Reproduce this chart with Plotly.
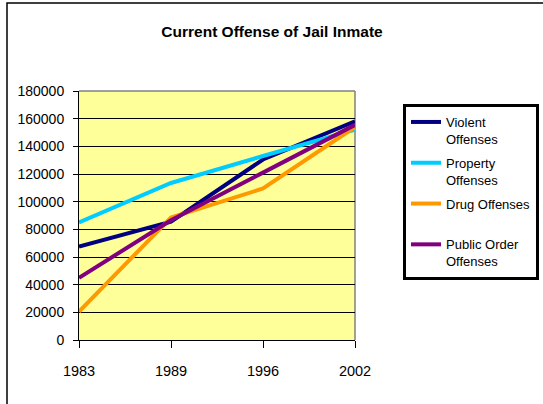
import plotly.graph_objects as go

years = ["1983", "1989", "1996", "2002"]
series_names = ["Violent<br>Offenses", "Property<br>Offenses", "Drug Offenses<br> ", "Public Order<br>Offenses"]
violent = [67500, 85500, 130500, 158000]
property_ = [85000, 113500, 133000, 152000]
drug = [20500, 88500, 109500, 154000]
public_order = [45000, 86500, 121000, 155500]
series_values = [violent, property_, drug, public_order]
colors = ["#000080", "#00CCFF", "#FF9900", "#800080"]
y_ticks = list(range(0, 180001, 20000))

FONT = "Liberation Sans Narrow, Arial Narrow, Liberation Sans, Arial, sans-serif"

fig = go.Figure()
for i, (name, vals, c) in enumerate(zip(series_names, series_values, colors)):
    fig.add_trace(go.Scatter(x=years, y=vals, mode="lines", name=name,
                             legendgroup=f"g{i}",
                             line=dict(color=c, width=4)))

W, H = 543, 404
L, R, T, B = 79, 188, 91, 64
pw, ph = W - L - R, H - T - B

def px2x(px):
    return (px - L) / pw

def px2y(py):
    return (H - B - py) / ph

fig.update_layout(
    width=W, height=H,
    margin=dict(l=L, r=R, t=T, b=B, autoexpand=False),
    paper_bgcolor="white",
    plot_bgcolor="#FFFF99",
    font=dict(family=FONT, size=14, color="black"),
    title=dict(text="<b>Current Offense of Jail Inmate</b>", xref="container", yref="container",
               x=272 / W, y=1 - 32 / H, xanchor="center", yanchor="middle",
               font=dict(family=FONT, size=15.5, color="black")),
    xaxis=dict(type="category", categoryorder="array", categoryarray=years,
               range=[0, 3], showgrid=False, showline=True, linecolor="black", linewidth=1,
               ticks="outside", ticklen=7, tickcolor="black", ticklabelstandoff=11,
               tickfont=dict(size=14.5)),
    yaxis=dict(range=[0, 180000], tickvals=y_ticks, tickformat="d",
               showgrid=True, gridcolor="black", gridwidth=1,
               showline=True, linecolor="black", linewidth=1, zeroline=False,
               ticks="outside", ticklen=5, tickcolor="black", ticklabelstandoff=6,
               tickfont=dict(size=14)),
    legend=dict(x=px2x(403), y=px2y(104), xanchor="left", yanchor="top",
                bordercolor="black", borderwidth=3, bgcolor="white",
                font=dict(family=FONT, size=13, color="black"),
                valign="top", tracegroupgap=4, entrywidth=150, entrywidthmode="pixels"),
    shapes=[
        dict(type="line", xref="paper", yref="paper", x0=1, x1=1, y0=0, y1=1,
             line=dict(color="#808080", width=1.5), layer="below"),
        dict(type="line", xref="paper", yref="paper", x0=0, x1=1, y0=1, y1=1,
             line=dict(color="#808080", width=1.5), layer="above"),
        dict(type="rect", xref="paper", yref="paper", x0=px2x(7), x1=px2x(600),
             y0=px2y(450), y1=px2y(3), line=dict(color="black", width=1.5)),
    ],
)

fig.write_html("out.html")
